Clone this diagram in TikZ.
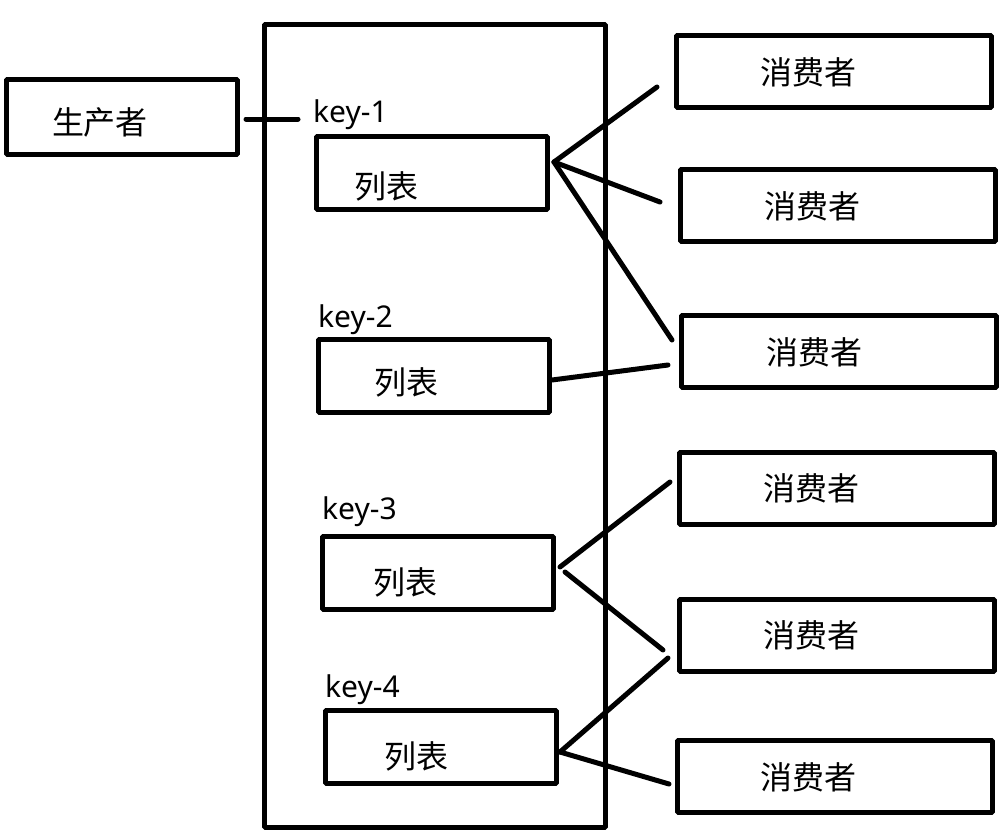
\documentclass[tikz,border=0pt]{standalone}
\usepackage{fontspec}
\setmainfont{Noto Sans}
\newfontfamily\cjk{Noto Sans CJK SC}
\usepackage{tikz}
\tikzset{main/.style={draw=black, line width=5pt, rectangle, inner sep=0pt},
	listbox/.style={main, minimum width=231pt, minimum height=73pt},
	userbox/.style={main, minimum width=315pt, minimum height=72pt},
	word/.style={font=\cjk\fontsize{32}{38}\selectfont, inner sep=0pt},
	keyword/.style={font=\fontsize{30}{36}\selectfont, inner sep=0pt, anchor=base west},
	link/.style={line width=5pt, line cap=round}}

\begin{document}
\begin{tikzpicture}[x=1pt, y=-1pt, line join=bevel]
		\useasboundingbox (0,0) rectangle (1005,830);
		
		\node[main, minimum width=341pt, minimum height=803pt] (store) at (435,426) {};
		\node[main, minimum width=231pt, minimum height=75pt] (prod) at (122,117) {};
		\node[word] (prodtext) at (100,122) {生产者};
		
		\node[listbox] (l1) at (432,173) {};
		\node[listbox] (l2) at (433.5,375.5) {};
		\node[listbox] (l3) at (437.5,572.5) {};
		\node[listbox] (l4) at (440.5,746.5) {};
		
		\node[keyword] (k1) at (313,122) {key-1};
		\node[keyword] (k2) at (318,327) {key-2};
		\node[keyword] (k3) at (322,519) {key-3};
		\node[keyword] (k4) at (325,697) {key-4};
		
		\node[word] (l1text) at (386,186) {列表};
		\node[word] (l2text) at (406,382) {列表};
		\node[word] (l3text) at (405,582) {列表};
		\node[word] (l4text) at (416,756) {列表};
		
		\node[userbox] (c1) at (834,71.5) {};
		\node[userbox] (c2) at (838,205) {};
		\node[userbox] (c3) at (839,351.5) {};
		\node[userbox] (c4) at (836.5,488.5) {};
		\node[userbox] (c5) at (836.5,635) {};
		\node[userbox] (c6) at (834.5,776) {};
		
		\node[word] (c1text) at (808,72) {消费者};
		\node[word] (c2text) at (812,206) {消费者};
		\node[word] (c3text) at (814,352) {消费者};
		\node[word] (c4text) at (811,488) {消费者};
		\node[word] (c5text) at (811,635) {消费者};
		\node[word] (c6text) at (808,777) {消费者};
		
		\coordinate (prodout) at ([xshift=6pt,yshift=-2pt]prod.east);
		\coordinate (prodin) at (298,119);
		\coordinate (l1out) at (554,162);
		\coordinate (l2out) at (552,380);
		\coordinate (l3out) at (560,567);
		\coordinate (l3outb) at (565,572);
		\coordinate (l4out) at (560,752);
		\coordinate (c1in) at (657,87);
		\coordinate (c2in) at (660,202);
		\coordinate (c3in) at (672,340);
		\coordinate (c3inb) at (668,365);
		\coordinate (c4in) at (670,482);
		\coordinate (c5in) at (663,650);
		\coordinate (c5inb) at (668,658);
		\coordinate (c6in) at (669,784);
		
		\draw[link] (prodout) -- (prodin);
		
		\draw[link] (l1out) -- (c1in);
		\draw[link] (l1out) -- (c2in);
		\draw[link] (l1out) -- (c3in);
		\draw[link] (l2out) -- (c3inb);
		\draw[link] (l3out) -- (c4in);
		\draw[link] (l3outb) -- (c5in);
		\draw[link] (l4out) -- (c5inb);
		\draw[link] (l4out) -- (c6in);
	\end{tikzpicture}
\end{document}
